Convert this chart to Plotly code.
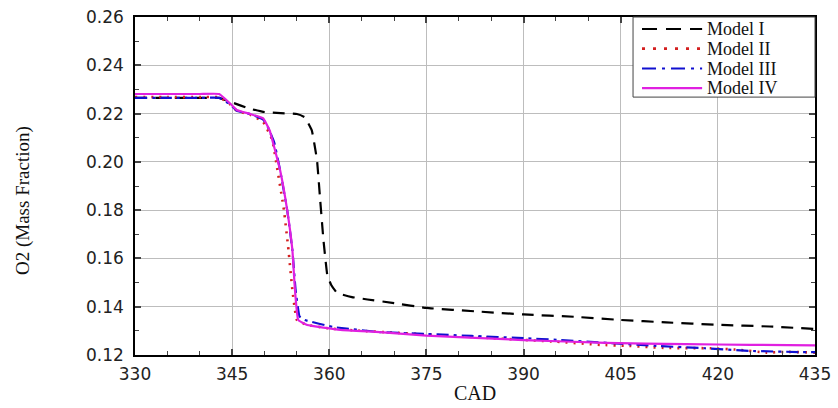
import plotly.graph_objects as go

# Model I (black dashed)
x1 = [330, 335, 340, 343, 345.2, 347.5, 349.8, 352.5, 355, 356.2, 357.3, 358.1, 358.6, 359.1, 359.7, 360.3, 361.2, 363.5, 365.9, 370, 375, 383, 390, 398, 405, 412, 420, 428, 435]
y1 = [0.2265, 0.2265, 0.2265, 0.2265, 0.2244, 0.2222, 0.2207, 0.2202, 0.2198, 0.2185, 0.2130, 0.2008, 0.1840, 0.1676, 0.1530, 0.1490, 0.1457, 0.1440, 0.1430, 0.1415, 0.1395, 0.1380, 0.1368, 0.1358, 0.1345, 0.1335, 0.1325, 0.1318, 0.1308]

# Model II (red dotted)
x2 = [330, 335, 340, 343, 344.6, 345.7, 347.8, 349.8, 351.2, 352.0, 353.0, 353.7, 354.3, 355.0, 356.5, 360, 365, 375, 385, 395, 401.8, 406, 412, 418.8, 423, 427.5, 430.7, 435]
y2 = [0.2268, 0.2268, 0.2268, 0.2268, 0.2240, 0.2212, 0.2195, 0.2165, 0.2090, 0.1966, 0.1800, 0.1635, 0.1470, 0.1345, 0.1325, 0.1310, 0.1300, 0.1285, 0.1270, 0.1255, 0.1242, 0.1238, 0.1229, 0.1228, 0.1222, 0.1210, 0.1213, 0.1210]

# Model III (blue dash-dot)
x3 = [330, 335, 340, 343, 344.6, 345.7, 347.8, 349.8, 350.5, 351.5, 352.4, 353.5, 354.3, 354.8, 355.4, 356.2, 360.6, 367.8, 375, 382, 390, 395.5, 403, 411, 418, 425, 433, 435]
y3 = [0.2265, 0.2265, 0.2265, 0.2265, 0.2240, 0.2212, 0.2198, 0.2175, 0.2145, 0.2080, 0.1966, 0.1800, 0.1635, 0.1470, 0.1360, 0.1345, 0.1316, 0.1295, 0.1287, 0.1279, 0.1270, 0.1262, 0.1250, 0.1237, 0.1228, 0.1217, 0.1212, 0.1212]

# Model IV (magenta solid)
x4 = [330, 335, 340, 343, 344.6, 345.7, 347.8, 349.8, 350.8, 351.6, 352.4, 353.5, 354.3, 354.7, 355.2, 356.6, 361.7, 367.8, 375, 390, 402.7, 415, 425, 435]
y4 = [0.2281, 0.2281, 0.2281, 0.2281, 0.2244, 0.2215, 0.2198, 0.2180, 0.2130, 0.2050, 0.1966, 0.1800, 0.1635, 0.1470, 0.1345, 0.1324, 0.1304, 0.1295, 0.1280, 0.1262, 0.1250, 0.1245, 0.1242, 0.1240]

names = ["Model I", "Model II", "Model III", "Model IV"]
colors = ["#000000", "#d42020", "#1010d0", "#e020e0"]
dashes = ["12px,8px", "2px,6px", "12px,5px,3px,5px", "solid"]
legend_dashes = ["15px,9px", "3px,8px", "14px,6px,3px,6px", "solid"]
widths = [2.2, 2.6, 2.2, 2.2]

x_ticks = [330, 345, 360, 375, 390, 405, 420, 435]
y_ticks = [0.12, 0.14, 0.16, 0.18, 0.20, 0.22, 0.24, 0.26]

serif = "Liberation Serif, Times New Roman, serif"
sans = "DejaVu Sans, Arial, sans-serif"

fig = go.Figure()
for xs, ys, n, c, d, w in zip([x1, x2, x3, x4], [y1, y2, y3, y4], names, colors, dashes, widths):
    fig.add_trace(go.Scatter(x=xs, y=ys, mode="lines", name=n, showlegend=False,
                             line=dict(color=c, dash=d, width=w, shape="spline", smoothing=0.3)))

# custom legend box (paper coordinates)
shapes = [dict(type="rect", xref="paper", yref="paper", x0=0.7324, x1=1.0, y0=0.763, y1=1.0,
               fillcolor="white", line=dict(color="#444", width=1), layer="above")]
annotations = []
row_y = [0.9645, 0.9063, 0.8476, 0.7893]
for n, c, d, w, ry in zip(names, colors, legend_dashes, widths, row_y):
    shapes.append(dict(type="line", xref="paper", yref="paper", x0=0.7456, x1=0.834, y0=ry, y1=ry,
                       line=dict(color=c, dash=d, width=w), layer="above"))
    annotations.append(dict(xref="paper", yref="paper", x=0.8385, y=ry, xanchor="left", yanchor="middle",
                            text=n, showarrow=False, font=dict(family=serif, size=18, color="#111")))

# axis titles
annotations.append(dict(xref="paper", yref="paper", x=0.5, y=-0.113, xanchor="center", yanchor="middle",
                        text="CAD", showarrow=False, font=dict(family=serif, size=20, color="#111")))
annotations.append(dict(xref="paper", yref="paper", x=-0.1647, y=0.4556, xanchor="center", yanchor="middle",
                        text="O2 (Mass Fraction)", textangle=-90, showarrow=False,
                        font=dict(family=serif, size=19, color="#111")))

fig.update_layout(
    width=838, height=408,
    margin=dict(l=135, r=23, t=17, b=53),
    plot_bgcolor="white", paper_bgcolor="white",
    showlegend=False,
    shapes=shapes, annotations=annotations,
    xaxis=dict(range=[330, 435], tickvals=x_ticks, ticks="inside", ticklen=6, tickwidth=1.5,
               showline=True, linecolor="black", linewidth=1.5, mirror="allticks",
               showgrid=True, gridcolor="#bdbdbd", gridwidth=1, automargin=False,
               minor=dict(dtick=5, tick0=330, ticks="inside", ticklen=4, tickwidth=1.2, showgrid=False),
               tickfont=dict(family=sans, size=17, color="#222"), ticklabelstandoff=3,
               zeroline=False),
    yaxis=dict(range=[0.12, 0.26], tickvals=y_ticks, tickformat=".2f", ticks="inside", ticklen=6, tickwidth=1.5,
               showline=True, linecolor="black", linewidth=1.5, mirror="allticks",
               showgrid=True, gridcolor="#bdbdbd", gridwidth=1, automargin=False,
               minor=dict(dtick=0.01, tick0=0.12, ticks="inside", ticklen=4, tickwidth=1.2, showgrid=False),
               tickfont=dict(family=sans, size=17, color="#222"), ticklabelstandoff=6,
               zeroline=False),
)

fig.write_html("out.html")
